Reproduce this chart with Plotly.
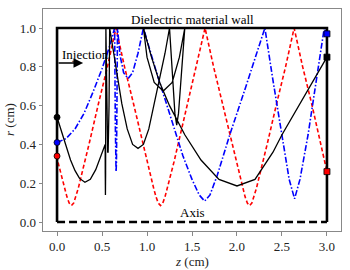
import plotly.graph_objects as go

# Tick labels
x_ticks = [0.0, 0.5, 1.0, 1.5, 2.0, 2.5, 3.0]
y_ticks = [0.0, 0.2, 0.4, 0.6, 0.8, 1.0]

# Wall and axis outlines
wall_z = [0.0, 0.0, 3.0, 3.0]
wall_r = [0.0, 1.0, 1.0, 0.0]
axis_z = [0.0, 3.0]
axis_r = [0.0, 0.0]

# Red trajectory
red_z = [0.0, 0.01, 0.06, 0.085, 0.11, 0.135, 0.16, 0.185, 0.21, 0.235, 0.26, 0.31, 0.36, 0.46, 0.56, 0.655,
         0.75, 0.85, 0.95, 1.0, 1.05, 1.075, 1.10, 1.125, 1.15, 1.175, 1.20, 1.225, 1.25, 1.30, 1.35, 1.45, 1.55, 1.645,
         1.74, 1.84, 1.94, 1.99, 2.04, 2.065, 2.09, 2.115, 2.14, 2.165, 2.19, 2.215, 2.24, 2.29, 2.34, 2.44, 2.54, 2.635,
         2.73, 2.83, 2.93, 3.0]
red_r = [0.34, 0.31, 0.22, 0.172, 0.13, 0.098, 0.085, 0.098, 0.13, 0.172, 0.22, 0.31, 0.41, 0.61, 0.80, 1.0,
         0.80, 0.61, 0.41, 0.31, 0.22, 0.172, 0.13, 0.098, 0.085, 0.098, 0.13, 0.172, 0.22, 0.31, 0.41, 0.61, 0.80, 1.0,
         0.80, 0.61, 0.41, 0.31, 0.22, 0.172, 0.13, 0.098, 0.085, 0.098, 0.13, 0.172, 0.22, 0.31, 0.41, 0.61, 0.80, 1.0,
         0.80, 0.61, 0.41, 0.26]

# Blue trajectory
blue_z = [0.0, 0.1, 0.2, 0.3, 0.4, 0.5, 0.58, 0.64, 0.648, 0.652, 0.656, 0.66, 0.664, 0.672,
          0.70, 0.74, 0.79, 0.84, 0.90, 0.96, 1.1, 1.2, 1.3, 1.4, 1.5, 1.58, 1.64, 1.70, 1.78, 1.92,
          2.1, 2.2, 2.31, 2.4, 2.5, 2.58, 2.64, 2.70, 2.79, 2.88, 2.97, 3.0]
blue_r = [0.41, 0.43, 0.48, 0.56, 0.67, 0.79, 0.90, 1.0, 0.5, 0.30, 0.26, 0.30, 0.5, 1.0,
          0.86, 0.77, 0.74, 0.77, 0.87, 1.0, 0.78, 0.63, 0.48, 0.34, 0.22, 0.14, 0.108, 0.14, 0.24, 0.45,
          0.70, 0.84, 1.0, 0.73, 0.45, 0.22, 0.12, 0.22, 0.45, 0.72, 1.0, 0.97]

# Black trajectory
black_z = [0.0, 0.05, 0.10, 0.15, 0.20, 0.25, 0.31, 0.37, 0.43, 0.49, 0.535,
           0.536, 0.538, 0.540, 0.543,
           0.553, 0.563, 0.568, 0.578, 0.585,
           0.62, 0.66, 0.72, 0.78, 0.84, 0.90, 0.96, 1.02, 1.08, 1.14, 1.20, 1.25,
           1.29, 1.31, 1.33, 1.35, 1.42,
           1.36, 1.28, 1.18, 1.08, 1.0, 0.96,
           1.05, 1.14, 1.25, 1.42, 1.6, 1.8, 2.0, 2.2, 2.4, 2.5, 2.7, 2.85, 3.0]
black_r = [0.54, 0.47, 0.39, 0.32, 0.265, 0.225, 0.205, 0.22, 0.27, 0.34, 0.40,
           0.25, 0.14, 0.25, 1.0,
           0.60, 0.36, 0.36, 0.60, 1.0,
           0.90, 0.78, 0.61, 0.48, 0.40, 0.38, 0.40, 0.48, 0.61, 0.74, 0.87, 1.0,
           0.72, 0.56, 0.50, 0.56, 1.0,
           0.85, 0.72, 0.675, 0.72, 0.85, 1.0,
           0.85, 0.72, 0.60, 0.45, 0.32, 0.22, 0.186, 0.22, 0.36, 0.45, 0.61, 0.73, 0.85]

fig = go.Figure()

fig.add_trace(go.Scatter(x=red_z, y=red_r, mode="lines",
                         line=dict(color="#ff0000", width=1.6, dash="4px,2.5px")))
fig.add_trace(go.Scatter(x=blue_z, y=blue_r, mode="lines",
                         line=dict(color="#0000ff", width=1.6, dash="6px,2px,1.5px,2px")))
fig.add_trace(go.Scatter(x=black_z, y=black_r, mode="lines",
                         line=dict(color="#000000", width=1.3)))

fig.add_trace(go.Scatter(x=wall_z, y=wall_r, mode="lines",
                         line=dict(color="#000000", width=2.6)))
fig.add_trace(go.Scatter(x=axis_z, y=axis_r, mode="lines",
                         line=dict(color="#000000", width=2.6, dash="8px,4px")))

# start markers
fig.add_trace(go.Scatter(x=[black_z[0], blue_z[0], red_z[0]], y=[black_r[0], blue_r[0], red_r[0]],
                         mode="markers",
                         marker=dict(symbol="circle", size=6,
                                     color=["#000000", "#0000ff", "#ff0000"],
                                     line=dict(color="#000000", width=0.8))))
# end markers
fig.add_trace(go.Scatter(x=[black_z[-1], blue_z[-1], red_z[-1]], y=[black_r[-1], blue_r[-1], red_r[-1]],
                         mode="markers",
                         marker=dict(symbol="square", size=6,
                                     color=["#000000", "#0000ff", "#ff0000"],
                                     line=dict(color="#000000", width=0.8))))

font_family = "Liberation Serif, DejaVu Serif, serif"

fig.add_annotation(x=1.5, y=1.0, text="Dielectric material wall", showarrow=False,
                   xanchor="center", yanchor="bottom", yshift=-1,
                   font=dict(family=font_family, size=13, color="#000000"))
fig.add_annotation(x=1.5, y=0.0, text="Axis", showarrow=False,
                   xanchor="center", yanchor="bottom", yshift=0,
                   font=dict(family=font_family, size=13, color="#000000"))
fig.add_annotation(x=0.03, y=0.866, text="Injection", showarrow=False,
                   xanchor="left", yanchor="middle",
                   font=dict(family=font_family, size=13, color="#000000"))
fig.add_annotation(x=0.29, y=0.82, ax=0.0, ay=0.82, xref="x", yref="y", axref="x", ayref="y",
                   text="", showarrow=True, arrowhead=2, arrowsize=1.2, arrowwidth=1.6,
                   arrowcolor="#000000")

# axis titles placed in paper coordinates
fig.add_annotation(x=0.5, y=0, xref="paper", yref="paper", yshift=-30, yanchor="middle",
                   text="<i>z</i> (cm)", showarrow=False,
                   font=dict(family=font_family, size=13, color="#222222"))
fig.add_annotation(x=0, y=0.5, xref="paper", yref="paper", xshift=-34, xanchor="center",
                   text="<i>r</i> (cm)", showarrow=False, textangle=-90,
                   font=dict(family=font_family, size=13, color="#222222"))

fig.update_layout(
    width=350, height=270,
    margin=dict(l=43, r=9, t=9, b=39),
    paper_bgcolor="white", plot_bgcolor="white",
    showlegend=False,
    font=dict(family=font_family, size=13, color="#222222"),
)
fig.update_xaxes(range=[-0.156, 3.156], tickvals=x_ticks,
                 ticktext=["%.1f" % v for v in x_ticks], automargin=False,
                 showgrid=False, zeroline=False, showline=True, mirror=True,
                 linecolor="#888888", linewidth=1, ticks="outside", ticklen=3.5,
                 tickcolor="#888888")
fig.update_yaxes(range=[-0.046, 1.098], tickvals=y_ticks,
                 ticktext=["%.1f" % v for v in y_ticks], automargin=False,
                 showgrid=False, zeroline=False, showline=True, mirror=True,
                 linecolor="#888888", linewidth=1, ticks="outside", ticklen=3.5,
                 tickcolor="#888888")

fig.write_html("out.html", config={"displayModeBar": False},
               post_script="document.body.style.margin='0';")
